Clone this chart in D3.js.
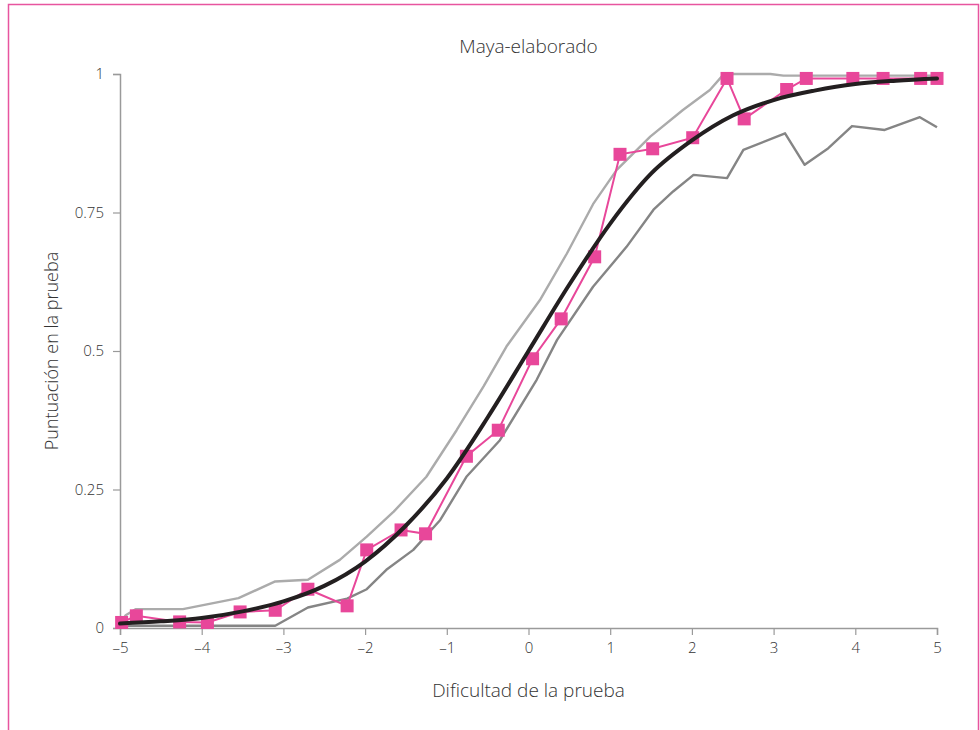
<!DOCTYPE html>
<html>
<head>
<meta charset="utf-8">
<script src="https://cdn.jsdelivr.net/npm/d3@7"></script>
<style>
  html, body { margin: 0; padding: 0; background: #fff; }
  svg { display: block; font-family: "Open Sans", "Noto Sans", sans-serif; font-weight: 300; }
</style>
</head>
<body>
<svg id="chart" width="980" height="730"></svg>
<script>
// Observed proportion correct by item difficulty
const obsX = [-4.98, -4.80, -4.27, -3.93, -3.53, -3.10, -2.70, -2.22, -1.98, -1.56, -1.26, -0.76, -0.37,
              0.05, 0.40, 0.81, 1.12, 1.52, 2.01, 2.43, 2.64, 3.16, 3.40, 3.97, 4.34, 4.80, 5.00];
const obsY = [0.010, 0.022, 0.011, 0.010, 0.029, 0.032, 0.070, 0.040, 0.141, 0.177, 0.170, 0.310, 0.357,
              0.486, 0.558, 0.670, 0.855, 0.865, 0.885, 0.992, 0.919, 0.972, 0.992, 0.992, 0.992, 0.992, 0.992];

// Expected score curve
const modelX = [-5, -4.5, -4, -3.5, -3, -2.5, -2, -1.5, -1, -0.5, 0, 0.5, 1, 1.5, 2, 2.5, 3, 3.5, 4, 4.5, 5];
const modelY = [0.008, 0.012, 0.018, 0.030, 0.048, 0.076, 0.120, 0.185, 0.270, 0.380, 0.500, 0.620,
                0.730, 0.820, 0.880, 0.925, 0.953, 0.970, 0.982, 0.988, 0.992];

// Upper confidence band
const upperX = [-5.00, -4.93, -4.81, -4.23, -3.55, -3.10, -2.70, -2.31, -1.98, -1.65, -1.25, -0.88, -0.55,
                -0.27, 0.14, 0.47, 0.79, 1.08, 1.49, 1.89, 2.22, 2.38, 2.51, 2.96, 3.12, 5.00];
const upperY = [0.008, 0.023, 0.034, 0.034, 0.054, 0.084, 0.087, 0.123, 0.165, 0.210, 0.273, 0.357, 0.436,
                0.508, 0.592, 0.676, 0.765, 0.827, 0.887, 0.935, 0.971, 0.998, 1.000, 1.000, 0.997, 0.997];

// Lower confidence band
const lowerX = [-5.00, -3.10, -2.70, -2.22, -1.98, -1.74, -1.41, -1.08, -0.76, -0.35, 0.10, 0.35, 0.79,
                1.20, 1.53, 1.77, 2.02, 2.43, 2.63, 3.14, 3.38, 3.67, 3.96, 4.36, 4.79, 5.00];
const lowerY = [0.004, 0.004, 0.037, 0.053, 0.070, 0.105, 0.141, 0.195, 0.273, 0.339, 0.448, 0.520, 0.616,
                0.688, 0.755, 0.788, 0.818, 0.812, 0.863, 0.893, 0.836, 0.866, 0.906, 0.899, 0.922, 0.904];

const xTicks = [-5, -4, -3, -2, -1, 0, 1, 2, 3, 4, 5];
const yTicks = [0, 0.25, 0.5, 0.75, 1];
const yTickLabels = ["0", "0.25", "0.5", "0.75", "1"];

const titleText = "Maya-elaborado";
const xLabel = "Dificultad de la prueba";
const yLabel = "Puntuación en la prueba";

const svg = d3.select("#chart");
const m = { left: 120, right: 937, top: 74, bottom: 628 };

const x = d3.scaleLinear().domain([-5, 5]).range([m.left, m.right]);
const y = d3.scaleLinear().domain([0, 1]).range([m.bottom, m.top]);

// Outer frame
svg.append("path")
  .attr("d", "M8.5,740 L8.5,4.5 L978.5,4.5 L978.5,740")
  .attr("fill", "none")
  .attr("stroke", "#e8559f")
  .attr("stroke-width", 1.5);

// Axes
const axisColor = "#9a9a9a";
const textColor = "#333333";
const fmtMinus = d => (d < 0 ? "\u2013" + Math.abs(d) : String(d));

const gx = svg.append("g")
  .attr("transform", `translate(0,${m.bottom})`)
  .call(d3.axisBottom(x).tickValues(xTicks).tickSize(7).tickPadding(7).tickFormat(fmtMinus));
const gy = svg.append("g")
  .attr("transform", `translate(${m.left},0)`)
  .call(d3.axisLeft(y).tickValues(yTicks).tickSize(7).tickPadding(9)
    .tickFormat((d, i) => yTickLabels[i]));

[gx, gy].forEach(g => {
  g.attr("font-size", null).attr("font-family", null);
  g.select(".domain").attr("stroke", axisColor).attr("stroke-width", 1.5);
  g.selectAll(".tick line").attr("stroke", axisColor).attr("stroke-width", 1.2);
  g.selectAll(".tick text")
    .attr("fill", textColor)
    .style("font-size", "15px")
    .style("font-weight", "300");
});

// Titles
svg.append("text")
  .attr("x", (m.left + m.right) / 2).attr("y", 53)
  .attr("text-anchor", "middle")
  .attr("fill", textColor)
  .style("font-size", "19px")
  .text(titleText);

svg.append("text")
  .attr("x", (m.left + m.right) / 2).attr("y", 697)
  .attr("text-anchor", "middle")
  .attr("fill", textColor)
  .style("font-size", "19px")
  .text(xLabel);

svg.append("text")
  .attr("transform", `translate(58,${(m.top + m.bottom) / 2}) rotate(-90)`)
  .attr("text-anchor", "middle")
  .attr("fill", textColor)
  .style("font-size", "18px")
  .text(yLabel);

const line = d3.line().x(d => x(d[0])).y(d => y(d[1]));
const zip = (a, b) => a.map((v, i) => [v, b[i]]);

const plot = svg.append("g");

plot.append("path")
  .datum(zip(upperX, upperY))
  .attr("d", line)
  .attr("fill", "none")
  .attr("stroke", "#ababab")
  .attr("stroke-width", 2.4)
  .attr("stroke-linejoin", "round");

plot.append("path")
  .datum(zip(lowerX, lowerY))
  .attr("d", line)
  .attr("fill", "none")
  .attr("stroke", "#858585")
  .attr("stroke-width", 2.4)
  .attr("stroke-linejoin", "round");

const obs = zip(obsX, obsY);
plot.append("path")
  .datum(obs)
  .attr("d", line)
  .attr("fill", "none")
  .attr("stroke", "#e8479a")
  .attr("stroke-width", 2);

const sq = 13;
plot.selectAll("rect.obs")
  .data(obs)
  .join("rect")
  .attr("class", "obs")
  .attr("x", d => x(d[0]) - sq / 2)
  .attr("y", d => y(d[1]) - sq / 2)
  .attr("width", sq)
  .attr("height", sq)
  .attr("fill", "#e8479a");

const modelLine = d3.line().x(d => x(d[0])).y(d => y(d[1])).curve(d3.curveMonotoneX);
plot.append("path")
  .datum(zip(modelX, modelY))
  .attr("d", modelLine)
  .attr("fill", "none")
  .attr("stroke", "#231f20")
  .attr("stroke-width", 4)
  .attr("stroke-linecap", "round");
</script>
</body>
</html>
